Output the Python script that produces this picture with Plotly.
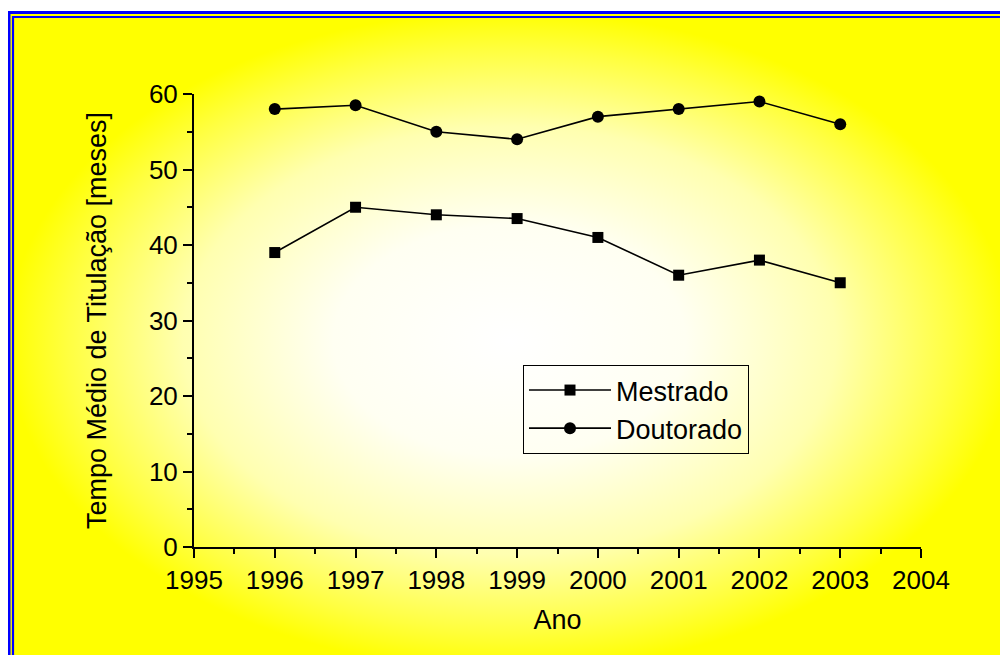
import base64
import plotly.graph_objects as go

anos = [1996, 1997, 1998, 1999, 2000, 2001, 2002, 2003]
mestrado = [39, 45, 44, 43.5, 41, 36, 38, 35]
doutorado = [58, 58.5, 55, 54, 57, 58, 59, 56]
x_ticks = [1995, 1996, 1997, 1998, 1999, 2000, 2001, 2002, 2003, 2004]
y_ticks = [0, 10, 20, 30, 40, 50, 60]

W, H = 1008, 655
L, R, T, B = 186, 95, 86, 116
PW, PH = W - L - R, H - T - B


def px(x):
    return (x - L) / PW


def py(y):
    return (H - B - y) / PH


FONT = "Liberation Sans, Arial, sans-serif"

svg = (
    '<svg xmlns="http://www.w3.org/2000/svg" width="1000" height="660" '
    'preserveAspectRatio="none" viewBox="0 0 1000 660">'
    '<defs><radialGradient id="g" cx="0.5" cy="0.5" r="0.5">'
    '<stop offset="0" stop-color="#FFFFFF"/>'
    '<stop offset="0.35" stop-color="#FFFFF2"/>'
    '<stop offset="0.65" stop-color="#FFFFB0"/>'
    '<stop offset="0.88" stop-color="#FFFF40"/>'
    '<stop offset="1" stop-color="#FFFF00"/>'
    '</radialGradient></defs>'
    '<rect width="1000" height="660" fill="url(#g)"/></svg>'
)
src = "data:image/svg+xml;base64," + base64.b64encode(svg.encode()).decode()

fig = go.Figure()
fig.add_trace(go.Scatter(
    x=anos, y=mestrado, name="Mestrado", mode="lines+markers",
    line=dict(color="black", width=1.6),
    marker=dict(symbol="square", size=11, color="black"),
    cliponaxis=False,
))
fig.add_trace(go.Scatter(
    x=anos, y=doutorado, name="Doutorado", mode="lines+markers",
    line=dict(color="black", width=1.6),
    marker=dict(symbol="circle", size=12, color="black"),
    cliponaxis=False,
))

fig.add_layout_image(dict(
    source=src, xref="paper", yref="paper",
    x=px(-1), y=py(3), sizex=px(1004) - px(-1), sizey=py(3) - py(662),
    xanchor="left", yanchor="top", sizing="stretch", layer="below",
))

# double blue frame
fig.add_shape(type="rect", xref="paper", yref="paper",
              x0=px(1), y0=py(4.5), x1=px(1030), y1=py(700),
              line=dict(color="#0000FF", width=3), layer="above")
fig.add_shape(type="rect", xref="paper", yref="paper",
              x0=px(5), y0=py(9), x1=px(1030), y1=py(700),
              line=dict(color="#0000FF", width=2.2), layer="above")

axis_common = dict(
    showline=True, linecolor="black", linewidth=2,
    ticks="outside", ticklen=9, tickwidth=2, tickcolor="black",
    showgrid=False, zeroline=False,
    tickfont=dict(family=FONT, size=26, color="black"),
    title_font=dict(family=FONT, size=27, color="black"),
)

fig.update_xaxes(
    range=[1995, 2004], tickvals=x_ticks, ticktext=[str(v) for v in x_ticks],
    title_text="Ano", title_standoff=16,
    minor=dict(dtick=0.5, ticklen=5, tickwidth=2, tickcolor="black", ticks="outside", showgrid=False),
    **axis_common,
)
fig.update_yaxes(
    range=[0, 60], tickvals=y_ticks,
    title_text="Tempo Médio de Titulação [meses]", title_standoff=34,
    minor=dict(dtick=5, ticklen=5, tickwidth=2, tickcolor="black", ticks="outside", showgrid=False),
    **axis_common,
)

fig.update_layout(
    width=W, height=H,
    margin=dict(l=L, r=R, t=T, b=B, pad=0),
    paper_bgcolor="white", plot_bgcolor="rgba(0,0,0,0)",
    font=dict(family=FONT, size=26, color="black"),
    legend=dict(
        x=px(515), y=py(357), xanchor="left", yanchor="top",
        bgcolor="rgba(0,0,0,0)", bordercolor="black", borderwidth=1,
        font=dict(family=FONT, size=27, color="black"),
        itemwidth=82, tracegroupgap=0,
    ),
    showlegend=True,
)

fig.write_html("out.html")
